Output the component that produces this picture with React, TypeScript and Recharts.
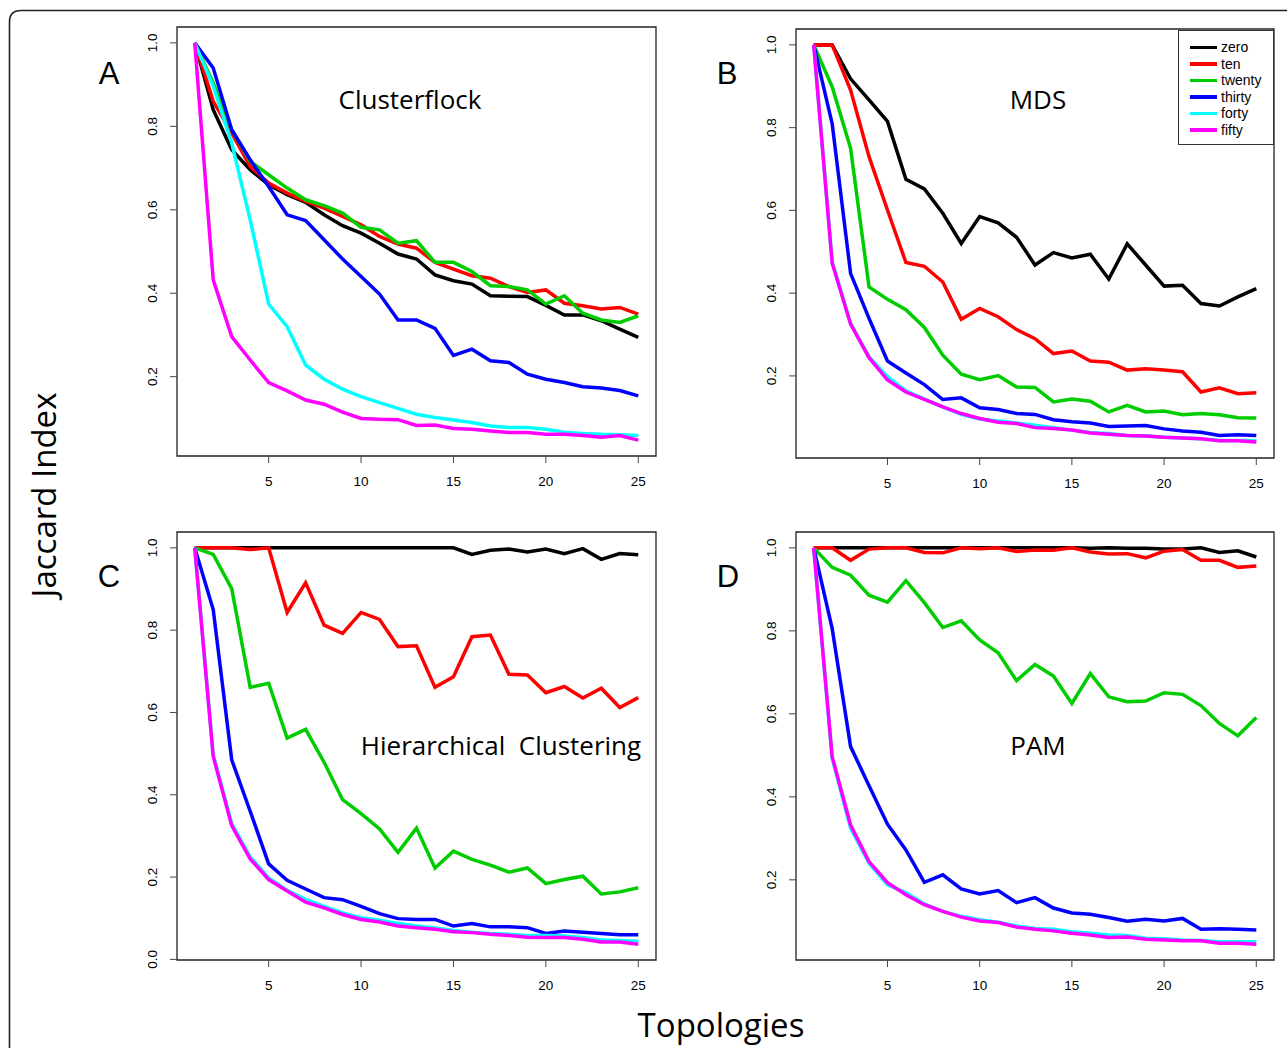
import { LineChart, Line, XAxis, YAxis, ReferenceArea, Legend } from 'recharts'

// x = number of topologies, 1..25
const topologies = Array.from({ length: 25 }, (_, i) => i + 1)
const xTicks = [5, 10, 15, 20, 25]
const yTicks = [0.2, 0.4, 0.6, 0.8, 1.0]
const yTicksZero = [0.0, 0.2, 0.4, 0.6, 0.8, 1.0]

const seriesKeys = ['zero', 'ten', 'twenty', 'thirty', 'forty', 'fifty']
const seriesColors = ['#000000', '#ff0000', '#00cd00', '#0000ff', '#00ffff', '#ff00ff']

// A - Clusterflock
const aZero = [1.0, 0.84, 0.744, 0.696, 0.66, 0.636, 0.618, 0.588, 0.562, 0.544, 0.52, 0.494, 0.482, 0.444, 0.43, 0.422, 0.394, 0.393, 0.392, 0.371, 0.348, 0.348, 0.334, 0.314, 0.294]
const aTen = [1.0, 0.86, 0.784, 0.704, 0.664, 0.64, 0.62, 0.604, 0.584, 0.564, 0.536, 0.518, 0.508, 0.474, 0.458, 0.442, 0.436, 0.416, 0.402, 0.408, 0.376, 0.37, 0.362, 0.366, 0.35]
const aTwenty = [1.0, 0.904, 0.792, 0.716, 0.684, 0.652, 0.624, 0.61, 0.592, 0.558, 0.552, 0.52, 0.526, 0.474, 0.474, 0.452, 0.418, 0.416, 0.408, 0.374, 0.394, 0.352, 0.336, 0.33, 0.346]
const aThirty = [1.0, 0.94, 0.792, 0.72, 0.656, 0.588, 0.574, 0.528, 0.482, 0.44, 0.398, 0.336, 0.336, 0.316, 0.251, 0.266, 0.238, 0.234, 0.206, 0.194, 0.186, 0.176, 0.173, 0.167, 0.154]
const aForty = [1.0, 0.896, 0.76, 0.576, 0.374, 0.32, 0.228, 0.194, 0.17, 0.152, 0.138, 0.124, 0.11, 0.102, 0.096, 0.09, 0.082, 0.078, 0.078, 0.074, 0.067, 0.064, 0.062, 0.061, 0.059]
const aFifty = [1.0, 0.432, 0.296, 0.24, 0.186, 0.166, 0.144, 0.134, 0.115, 0.1, 0.098, 0.097, 0.083, 0.084, 0.076, 0.074, 0.07, 0.066, 0.066, 0.062, 0.062, 0.059, 0.055, 0.059, 0.048]

// B - MDS
const bZero = [1.0, 1.0, 0.918, 0.867, 0.815, 0.675, 0.652, 0.593, 0.52, 0.585, 0.57, 0.535, 0.468, 0.498, 0.485, 0.494, 0.434, 0.519, 0.468, 0.417, 0.419, 0.375, 0.369, 0.391, 0.411]
const bTen = [1.0, 1.0, 0.891, 0.73, 0.601, 0.474, 0.465, 0.427, 0.337, 0.363, 0.343, 0.312, 0.29, 0.254, 0.26, 0.236, 0.233, 0.214, 0.217, 0.214, 0.21, 0.161, 0.171, 0.157, 0.159]
const bTwenty = [1.0, 0.899, 0.75, 0.415, 0.385, 0.36, 0.317, 0.25, 0.204, 0.191, 0.201, 0.173, 0.172, 0.137, 0.144, 0.139, 0.113, 0.129, 0.113, 0.115, 0.106, 0.109, 0.106, 0.099, 0.098]
const bThirty = [1.0, 0.81, 0.448, 0.339, 0.236, 0.207, 0.179, 0.143, 0.147, 0.123, 0.119, 0.109, 0.107, 0.094, 0.089, 0.086, 0.078, 0.079, 0.08, 0.072, 0.067, 0.064, 0.056, 0.058, 0.056]
const bForty = [1.0, 0.476, 0.327, 0.246, 0.198, 0.164, 0.144, 0.125, 0.107, 0.096, 0.091, 0.086, 0.081, 0.075, 0.069, 0.063, 0.061, 0.056, 0.055, 0.052, 0.05, 0.048, 0.044, 0.044, 0.043]
const bFifty = [1.0, 0.473, 0.325, 0.244, 0.19, 0.161, 0.143, 0.125, 0.109, 0.097, 0.088, 0.085, 0.075, 0.073, 0.069, 0.062, 0.059, 0.056, 0.055, 0.052, 0.05, 0.048, 0.043, 0.043, 0.04]

// C - Hierarchical Clustering
const cZero = [1.0, 1.0, 1.0, 1.0, 1.0, 1.0, 1.0, 1.0, 1.0, 1.0, 1.0, 1.0, 1.0, 1.0, 1.0, 0.984, 0.994, 0.997, 0.99, 0.997, 0.986, 0.998, 0.972, 0.986, 0.983]
const cTen = [1.0, 1.0, 1.0, 0.996, 1.0, 0.843, 0.915, 0.812, 0.792, 0.843, 0.826, 0.76, 0.762, 0.661, 0.687, 0.784, 0.788, 0.693, 0.691, 0.648, 0.663, 0.635, 0.659, 0.612, 0.636]
const cTwenty = [1.0, 0.984, 0.901, 0.661, 0.671, 0.538, 0.559, 0.479, 0.388, 0.354, 0.317, 0.26, 0.319, 0.222, 0.263, 0.243, 0.229, 0.212, 0.222, 0.184, 0.194, 0.202, 0.159, 0.164, 0.174]
const cThirty = [1.0, 0.85, 0.485, 0.36, 0.232, 0.192, 0.171, 0.15, 0.145, 0.129, 0.111, 0.099, 0.097, 0.097, 0.081, 0.087, 0.079, 0.079, 0.077, 0.063, 0.069, 0.066, 0.063, 0.06, 0.06]
const cForty = [1.0, 0.497, 0.33, 0.249, 0.198, 0.168, 0.146, 0.129, 0.113, 0.101, 0.095, 0.087, 0.081, 0.076, 0.07, 0.066, 0.063, 0.061, 0.058, 0.058, 0.057, 0.053, 0.047, 0.046, 0.044]
const cFifty = [1.0, 0.493, 0.325, 0.244, 0.194, 0.166, 0.139, 0.125, 0.109, 0.097, 0.091, 0.081, 0.077, 0.073, 0.067, 0.065, 0.061, 0.058, 0.054, 0.053, 0.053, 0.049, 0.042, 0.042, 0.037]

// D - PAM
const dZero = [1.0, 1.0, 1.0, 1.0, 1.0, 1.0, 1.0, 1.0, 1.0, 1.0, 1.0, 1.0, 1.0, 1.0, 1.0, 0.999, 1.0, 0.999, 0.999, 0.997, 0.997, 1.0, 0.989, 0.993, 0.978]
const dTen = [1.0, 1.0, 0.97, 0.997, 1.0, 1.0, 0.989, 0.988, 1.0, 0.998, 1.0, 0.991, 0.995, 0.994, 1.0, 0.99, 0.985, 0.986, 0.976, 0.992, 0.996, 0.97, 0.97, 0.953, 0.956]
const dTwenty = [1.0, 0.953, 0.934, 0.886, 0.869, 0.921, 0.868, 0.808, 0.824, 0.778, 0.747, 0.68, 0.719, 0.691, 0.625, 0.697, 0.641, 0.629, 0.631, 0.651, 0.647, 0.62, 0.577, 0.547, 0.591]
const dThirty = [1.0, 0.806, 0.521, 0.427, 0.334, 0.272, 0.194, 0.212, 0.178, 0.166, 0.174, 0.145, 0.157, 0.132, 0.12, 0.117, 0.109, 0.1, 0.105, 0.101, 0.107, 0.081, 0.082, 0.081, 0.079]
const dForty = [1.0, 0.493, 0.324, 0.24, 0.188, 0.169, 0.142, 0.124, 0.112, 0.104, 0.098, 0.089, 0.083, 0.081, 0.075, 0.071, 0.067, 0.066, 0.059, 0.058, 0.055, 0.054, 0.051, 0.051, 0.051]
const dFifty = [1.0, 0.497, 0.332, 0.244, 0.193, 0.164, 0.14, 0.124, 0.11, 0.101, 0.097, 0.086, 0.081, 0.077, 0.071, 0.067, 0.061, 0.062, 0.057, 0.055, 0.053, 0.053, 0.047, 0.047, 0.045]

const tickFont = 'Liberation Sans, Arial, Helvetica, sans-serif'
const labelFont = '"Open Sans", "Noto Sans", sans-serif'
const xDomain = [0.04, 25.96]

function buildRows(series: number[][]) {
  return topologies.map((x, i) => {
    const row: Record<string, number> = { x }
    seriesKeys.forEach((k, j) => {
      row[k] = series[j][i]
    })
    return row
  })
}

// R style: pad the data range by 4% on each side
function rDomain(series: number[][]) {
  const all = series.flat()
  const lo = Math.min(...all)
  const hi = Math.max(...all)
  const pad = (hi - lo) * 0.04
  return [lo - pad, hi + pad]
}

const YTick = (props: any) => {
  const { x, y, payload } = props
  return (
    <text
      x={x}
      y={y}
      transform={`rotate(-90 ${x} ${y})`}
      textAnchor="middle"
      fontSize={13.5}
      fontFamily={tickFont}
      fill="#000"
    >
      {Number(payload.value).toFixed(1)}
    </text>
  )
}

const LegendBox = (props: any) => {
  // keep the series order, not alphabetical
  const items = [...(props.payload || [])].sort(
    (a: any, b: any) => seriesKeys.indexOf(a.value) - seriesKeys.indexOf(b.value)
  )
  return (
    <div
      style={{
        width: 96,
        height: 115,
        border: '1px solid #333',
        background: '#fff',
        boxSizing: 'border-box',
        paddingTop: 8,
      }}
    >
      {items.map((item: any) => (
        <div key={item.value} style={{ display: 'flex', alignItems: 'center', height: 16.5 }}>
          <div style={{ marginLeft: 11, width: 27, height: 3.5, background: item.color }} />
          <span
            style={{
              marginLeft: 4,
              fontSize: 14,
              lineHeight: '16px',
              fontFamily: tickFont,
              color: '#000',
            }}
          >
            {item.value}
          </span>
        </div>
      ))}
    </div>
  )
}

interface PanelProps {
  series: number[][]
  ticks: number[]
  left: number
  top: number
  width: number
  height: number
  showLegend?: boolean
}

function Panel({ series, ticks, left, top, width, height, showLegend }: PanelProps) {
  const data = buildRows(series)
  const yDomain = rDomain(series)
  return (
    <div style={{ position: 'absolute', left, top }}>
      <LineChart width={width} height={height} data={data} margin={{ top: 2, right: 2, bottom: 0, left: 0 }}>
        <XAxis
          dataKey="x"
          type="number"
          domain={xDomain}
          ticks={xTicks}
          height={40}
          axisLine={false}
          tickSize={7}
          tickMargin={13}
          tickLine={{ stroke: '#444' }}
          tick={{ fontSize: 13.5, fill: '#000', fontFamily: tickFont }}
        />
        <YAxis
          type="number"
          domain={yDomain}
          ticks={ticks}
          width={50}
          axisLine={false}
          tickSize={7}
          tickMargin={13}
          tickLine={{ stroke: '#444' }}
          tick={<YTick />}
        />
        <ReferenceArea
          x1={xDomain[0]}
          x2={xDomain[1]}
          y1={yDomain[0]}
          y2={yDomain[1]}
          fill="none"
          fillOpacity={0}
          stroke="#222"
          strokeWidth={1.3}
          ifOverflow="visible"
        />
        {seriesKeys.map((k, i) => (
          <Line
            key={k}
            type="linear"
            dataKey={k}
            name={k}
            stroke={seriesColors[i]}
            strokeWidth={3.5}
            dot={false}
            activeDot={false}
            isAnimationActive={false}
          />
        ))}
        {showLegend && (
          <Legend
            layout="vertical"
            align="center"
            verticalAlign="middle"
            wrapperStyle={{ left: 432, top: 3, width: 96, height: 115 }}
            content={<LegendBox />}
          />
        )}
      </LineChart>
    </div>
  )
}

export default function App() {
  return (
    <div
      style={{
        position: 'absolute',
        left: 0,
        top: 0,
        width: 1287,
        height: 1048,
        overflow: 'hidden',
        background: '#fff',
      }}
    >
      <Panel series={[aZero, aTen, aTwenty, aThirty, aForty, aFifty]} ticks={yTicks} left={127} top={25} width={531} height={471} />
      <Panel series={[bZero, bTen, bTwenty, bThirty, bForty, bFifty]} ticks={yTicks} left={746} top={27} width={530} height={471} showLegend />
      <Panel series={[cZero, cTen, cTwenty, cThirty, cForty, cFifty]} ticks={yTicksZero} left={127} top={530} width={531} height={470} />
      <Panel series={[dZero, dTen, dTwenty, dThirty, dForty, dFifty]} ticks={yTicks} left={746} top={530} width={530} height={470} />

      <svg
        width={1287}
        height={1048}
        style={{ position: 'absolute', left: 0, top: 0, pointerEvents: 'none' }}
      >
        <path d="M 9.5 1060 L 9.5 22 Q 9.5 10.5 21 10.5 L 1300 10.5" fill="none" stroke="#222" strokeWidth={1.6} />
        <g fontFamily={tickFont} fontSize={31} fill="#000" textAnchor="middle">
          <text x={109} y={84}>A</text>
          <text x={727} y={84}>B</text>
          <text x={109} y={587}>C</text>
          <text x={728} y={587}>D</text>
        </g>
        <g fontFamily={labelFont} fontSize={26} fill="#000" textAnchor="middle">
          <text x={410} y={109}>Clusterflock</text>
          <text x={1038} y={109}>MDS</text>
          <text x={501} y={755} style={{ whiteSpace: 'pre' }}>Hierarchical  Clustering</text>
          <text x={1038} y={755}>PAM</text>
        </g>
        <g fontFamily={labelFont} fontSize={33} fill="#000" textAnchor="middle">
          <text x={721} y={1037}>Topologies</text>
          <text x={56} y={495} transform="rotate(-90 56 495)">Jaccard Index</text>
        </g>
      </svg>
    </div>
  )
}
